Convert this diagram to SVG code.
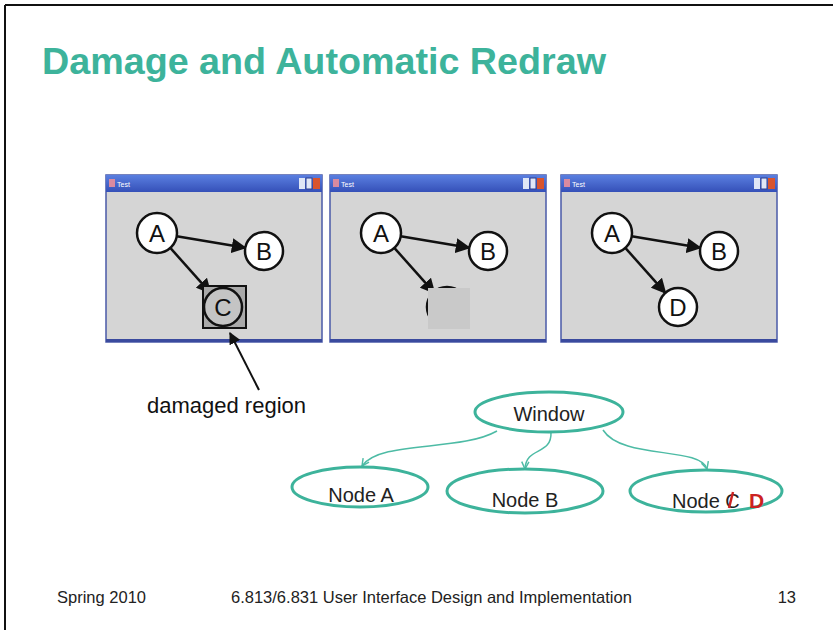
<svg xmlns="http://www.w3.org/2000/svg" width="833" height="630" viewBox="0 0 833 630">
<style>
.t{font-family:"Liberation Sans",Arial,sans-serif;}
.win-body{fill:#d5d5d5;stroke:#4a5aa8;stroke-width:1.5;}
.nd{fill:#fff;stroke:#111;stroke-width:2.5;}
.nl{font-family:"Liberation Sans",Arial,sans-serif;font-size:24px;fill:#111;text-anchor:middle;}
.edge{stroke:#111;stroke-width:2.5;fill:none;marker-end:url(#ah);}
.tn{fill:#fff;stroke:#3db39b;stroke-width:3;}
.tl{font-family:"Liberation Sans",Arial,sans-serif;font-size:20px;fill:#222;text-anchor:middle;}
.te{stroke:#4dbba5;stroke-width:1.5;fill:none;marker-end:url(#ta);}
.ft{font-family:"Liberation Sans",Arial,sans-serif;font-size:16.5px;fill:#222;}
</style>
<defs>
<marker id="ah" viewBox="0 0 10 10" refX="9" refY="5" markerWidth="6" markerHeight="6" orient="auto" markerUnits="strokeWidth">
<path d="M0,0 L10,5 L0,10 z" fill="#111"/>
</marker>
<marker id="ta" viewBox="0 0 10 10" refX="9" refY="5" markerWidth="9" markerHeight="9" orient="auto" markerUnits="userSpaceOnUse">
<path d="M1,1 L9,5 L1,9" fill="none" stroke="#4dbba5" stroke-width="1.6"/>
</marker>
<linearGradient id="bar" x1="0" y1="0" x2="0" y2="1">
<stop offset="0" stop-color="#5a7fe0"/>
<stop offset="1" stop-color="#3550b8"/>
</linearGradient>
<g id="frame">
<rect class="win-body" x="0" y="0" width="216" height="167"/>
<rect x="0" y="0" width="216" height="17" fill="url(#bar)"/>
<rect x="0" y="164" width="216" height="3" fill="#3a4a9e"/>
<rect x="3" y="4" width="6" height="8" fill="#d98aa0"/>
<text x="11" y="12" font-family="Liberation Sans,Arial,sans-serif" font-size="7" fill="#fff">Test</text>
<rect x="193" y="3" width="6" height="11" fill="#dfe6f6"/>
<rect x="200" y="3" width="6" height="11" fill="#dfe6f6" stroke="#2a3c90" stroke-width="1"/>
<rect x="207" y="3" width="7" height="11" fill="#d8542e"/>
</g>
</defs>

<line x1="5" y1="5" x2="833" y2="5" stroke="#111" stroke-width="2"/>
<line x1="5" y1="5" x2="5" y2="630" stroke="#111" stroke-width="2"/>

<text id="title" class="t" x="42" y="74" font-size="36" font-weight="bold" fill="#3db39b" textLength="564" lengthAdjust="spacingAndGlyphs">Damage and Automatic Redraw</text>

<g id="window1" transform="translate(106,175)">
<use href="#frame"/>
<line class="edge" x1="70.7" y1="61.3" x2="139.3" y2="72.8"/>
<line class="edge" x1="64.3" y1="72.9" x2="104.4" y2="117.8"/>
<rect x="97" y="111" width="43" height="42" fill="#a9a9a9" stroke="#111" stroke-width="2"/>
<circle class="nd" cx="51" cy="58" r="20"/>
<circle class="nd" cx="158" cy="76" r="19"/>
<circle cx="117" cy="132" r="19" fill="#c4c4c4" stroke="#111" stroke-width="2.5"/>
<text class="nl" x="51" y="67">A</text>
<text class="nl" x="158" y="85">B</text>
<text class="nl" x="117" y="141">C</text>
</g>

<g id="window2" transform="translate(330,175)">
<use href="#frame"/>
<line class="edge" x1="70.7" y1="61.3" x2="139.3" y2="72.8"/>
<line class="edge" x1="64.3" y1="72.9" x2="104.4" y2="117.8"/>
<circle cx="117" cy="132" r="20" fill="#fff" stroke="#111" stroke-width="2.5"/>
<rect x="98" y="113" width="42" height="41" fill="#c9c9c9"/>
<circle class="nd" cx="51" cy="58" r="20"/>
<circle class="nd" cx="158" cy="76" r="19"/>
<text class="nl" x="51" y="67">A</text>
<text class="nl" x="158" y="85">B</text>
</g>

<g id="window3" transform="translate(561,175)">
<use href="#frame"/>
<line class="edge" x1="70.7" y1="61.3" x2="139.3" y2="72.8"/>
<line class="edge" x1="64.3" y1="72.9" x2="104.4" y2="117.8"/>
<circle class="nd" cx="51" cy="58" r="20"/>
<circle class="nd" cx="158" cy="76" r="19"/>
<circle class="nd" cx="117" cy="132" r="19"/>
<text class="nl" x="51" y="67">A</text>
<text class="nl" x="158" y="85">B</text>
<text class="nl" x="117" y="141">D</text>
</g>

<g id="damaged-label">
<line x1="259" y1="390" x2="230" y2="333" stroke="#111" stroke-width="2" marker-end="url(#ah)"/>
<text class="t" x="147" y="413" font-size="22" fill="#111">damaged region</text>
</g>

<g id="connectors">
<path class="te" d="M497,431 C460,452 380,440 362,466"/>
<path class="te" d="M551,432 C552,456 526,446 525,469"/>
<path class="te" d="M603,430 C622,460 700,446 707,469"/>
</g>

<g id="node-window">
<ellipse class="tn" cx="549" cy="412" rx="74" ry="20"/>
<text class="tl" x="549" y="421">Window</text>
</g>
<g id="node-a">
<ellipse class="tn" cx="360" cy="487" rx="68" ry="20"/>
<text class="tl" x="361" y="502">Node A</text>
</g>
<g id="node-b">
<ellipse class="tn" cx="525" cy="491" rx="78" ry="22"/>
<text class="tl" x="525" y="507">Node B</text>
</g>
<g id="node-c">
<ellipse class="tn" cx="706" cy="491" rx="76" ry="21"/>
<text class="tl" x="672" y="508" style="text-anchor:start">Node C</text>
<line x1="733" y1="492" x2="729" y2="508" stroke="#cc2222" stroke-width="2.5"/>
<text class="t" x="749" y="508" font-size="21" font-weight="bold" fill="#cc2222">D</text>
</g>

<g id="footer">
<text class="ft" x="57" y="603">Spring 2010</text>
<text class="ft" x="231" y="603">6.813/6.831 User Interface Design and Implementation</text>
<text class="ft" x="796" y="603" text-anchor="end">13</text>
</g>
</svg>
